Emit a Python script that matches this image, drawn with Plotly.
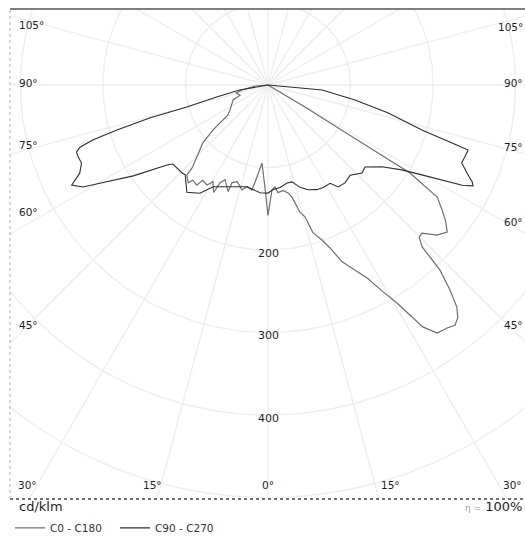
import numpy as np
import plotly.graph_objects as go

# ---------------- data (cd/klm versus gamma angle, 0 = nadir) ----------------
# C0 - C180 plane
c0_gamma = [0, 2.2, 3.9, 5.3, 8.1, 10.5, 12.1, 14.1, 15.7, 16.9, 19.2, 20.8, 22.7, 24.3,
            27.2, 29.1, 30.6, 31.7, 32.6, 34.3, 36.4, 37.9, 39.2, 40.4, 41.6, 42.9, 43.3,
            43.6, 44.8, 46.1, 48.4, 50.6, 52.4, 54.3, 56.5, 57.2, 58.2, 58.3, 58.5, 59.3,
            62, 90]
c0_cd = [158, 127, 124, 131, 129, 133, 139, 159, 166, 187, 199, 211, 232, 242,
         263, 287, 307, 328, 348, 364, 366, 369, 364, 353, 332, 306, 286,
         271, 260, 259, 274, 281, 272, 260, 246, 224, 202, 150, 100, 52,
         0, 0]
c180_gamma = [0, 1.7, 4.4, 6.8, 8.7, 11.6, 13.9, 17.7, 20.2, 20.5, 24.4, 26.1, 26.8, 29.6,
              31.4, 34.4, 35.4, 38.3, 39.2, 42.0, 42.5, 44.6, 48.3, 50.7, 53.1, 56.7, 66.8,
              70, 76, 79, 85.6, 90]
c180_cd = [158, 124, 95, 112, 129, 126, 131, 123, 126, 138, 126, 132, 146, 135,
           142, 140, 149, 147, 153, 147, 136, 123, 106, 86, 61, 55, 46,
           36, 40, 32, 16, 0]
# C90 - C270 plane
c90_gamma = [0, 2.7, 6.7, 11.0, 13.9, 17.4, 20.9, 25.0, 28.3, 32.3, 34.5, 38.2, 42.3, 46.9,
             49.8, 54.3, 57.6, 59.7, 61.4, 62.7, 63.8, 64.6, 66.1, 68.1, 69.9, 72.0, 72.5,
             73.7, 76.9, 80.2, 84.7, 90]
c90_cd = [131, 127, 125, 121, 121, 130, 136, 140, 141, 141, 150, 151, 148, 156,
          154, 170, 192, 216, 240, 265, 277, 274, 264, 253, 254, 255, 234,
          195, 149, 107, 66, 0]
c270_gamma = [0, 4.2, 11.6, 20.4, 28.3, 32.2, 37.1, 42.7, 44.3, 50.3, 51.6, 56.0, 59.7, 61.1,
              63.0, 64.9, 67.3, 69.2, 70.7, 71.7, 72.6, 73.4, 74.4, 74.8, 76.8, 79.9, 90]
c270_cd = [131, 131, 126, 132, 140, 155, 163, 148, 149, 150, 156, 197, 236, 256,
           267, 252, 245, 246, 246, 240, 222, 191, 149, 102, 64, 35, 0]

grid_radii = [100, 200, 300, 400, 500, 600]
grid_angles = list(range(0, 360, 15))
radial_labels = [200, 300, 400]
left_labels = ["105°", "90°", "75°", "60°", "45°"]
left_label_y = [72.7, 2.4, -72.7, -153.9, -290.9]
right_labels = ["105°", "90°", "75°", "60°", "45°"]
right_label_y = [70.3, 2.4, -75.2, -166.1, -290.9]
bottom_labels = ["30°", "15°", "0°", "15°", "30°"]
bottom_label_x = [-292, -139.4, 0, 147.9, 295.8]

# ---------------- helpers ----------------
def to_xy(gamma, cd, side):
    g = np.radians(np.asarray(gamma, float))
    r = np.asarray(cd, float)
    return side * r * np.sin(g), -r * np.cos(g)

def plane(left_g, left_cd, right_g, right_cd):
    xl, yl = to_xy(left_g, left_cd, -1)
    xr, yr = to_xy(right_g, right_cd, 1)
    return np.concatenate([xl[::-1], xr]), np.concatenate([yl[::-1], yr])

FONT = "DejaVu Sans"
GRID = "#eeeeee"

fig = go.Figure()

# grid circles and radial lines
t = np.linspace(0, 2 * np.pi, 361)
gx, gy = [], []
for r in grid_radii:
    gx += list(r * np.cos(t)) + [None]
    gy += list(r * np.sin(t)) + [None]
for a in grid_angles:
    ar = np.radians(a)
    gx += [0, 800 * np.sin(ar), None]
    gy += [0, -800 * np.cos(ar), None]
fig.add_trace(go.Scatter(x=gx, y=gy, mode="lines", line=dict(color=GRID, width=1.4),
                         hoverinfo="skip", showlegend=False))

xa, ya = plane(c180_gamma, c180_cd, c0_gamma, c0_cd)
xb, yb = plane(c270_gamma, c270_cd, c90_gamma, c90_cd)
fig.add_trace(go.Scatter(x=xa, y=ya, mode="lines", name="C0 - C180",
                         line=dict(color="#6f6f6f", width=1.2)))
fig.add_trace(go.Scatter(x=xb, y=yb, mode="lines", name="C90 - C270",
                         line=dict(color="#2e2e2e", width=1.1)))

ann = []
lab_font = dict(family=FONT, size=10.5, color="#1e1e1e")
for txt, y in zip(left_labels, left_label_y):
    ann.append(dict(x=-304, y=y, text=txt, xanchor="left", yanchor="middle",
                    showarrow=False, font=lab_font))
for txt, y in zip(right_labels, right_label_y):
    ann.append(dict(x=311, y=y, text=txt, xanchor="right", yanchor="middle",
                    showarrow=False, font=lab_font))
for txt, x in zip(bottom_labels, bottom_label_x):
    ann.append(dict(x=x, y=-484.8, text=txt, xanchor="center", yanchor="middle",
                    showarrow=False, font=lab_font))
for r in radial_labels:
    ann.append(dict(x=0, y=-(r + 4), text=str(r), xanchor="center", yanchor="middle",
                    showarrow=False, font=dict(family=FONT, size=11, color="#1e1e1e")))
ann.append(dict(xref="paper", yref="paper", x=0.0136, y=-0.0163, text="cd/klm",
                xanchor="left", yanchor="middle", showarrow=False,
                font=dict(family=FONT, size=13, color="#1e1e1e")))
ann.append(dict(xref="paper", yref="paper", x=0.998, y=-0.0163,
                text="<span style='color:#999;font-size:9px'>η =</span> 100%",
                xanchor="right", yanchor="middle", showarrow=False,
                font=dict(family=FONT, size=13, color="#1e1e1e")))

shapes = [
    dict(type="line", xref="paper", yref="paper", x0=0, x1=1, y0=1, y1=1,
         line=dict(color="#555555", width=1.6)),
    dict(type="line", xref="paper", yref="paper", x0=0, x1=1, y0=0, y1=0,
         line=dict(color="#444444", width=1.4, dash="dot")),
    dict(type="line", xref="paper", yref="paper", x0=0, x1=0, y0=0, y1=1,
         line=dict(color="#b0b0b0", width=1, dash="dot")),
]

fig.update_layout(
    width=525, height=537,
    margin=dict(l=10, r=0, t=9, b=38, autoexpand=False),
    paper_bgcolor="white", plot_bgcolor="white",
    xaxis=dict(range=[-312.7, 311.5], visible=False, fixedrange=True),
    yaxis=dict(range=[-501.8, 92.1], visible=False, fixedrange=True),
    annotations=ann, shapes=shapes,
    showlegend=True,
    legend=dict(orientation="h", x=0, y=-0.059, xanchor="left", yanchor="middle",
                font=dict(family=FONT, size=10.5, color="#333333"),
                entrywidth=60, bgcolor="rgba(0,0,0,0)", itemclick=False),
    font=dict(family=FONT),
)

fig.write_html("out.html", config={"displayModeBar": False},
               post_script="document.body.style.margin='0';")
